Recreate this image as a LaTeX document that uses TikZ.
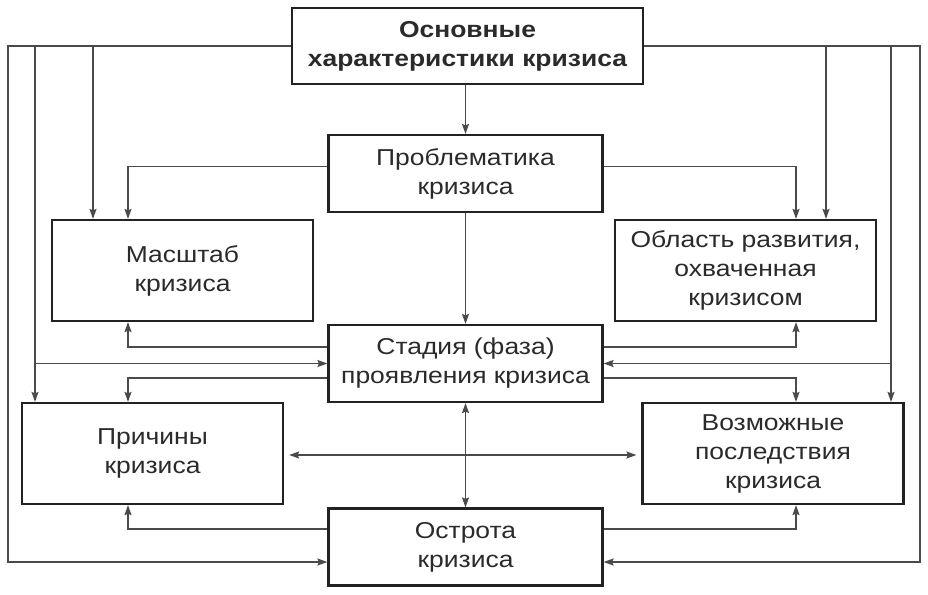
\documentclass[tikz,border=0pt]{standalone}
\usepackage{fontspec}
\setmainfont{Liberation Sans}[FakeStretch=1.15]
\usepackage{tikz}
\usetikzlibrary{arrows.meta}
\usetikzlibrary{positioning}

\definecolor{boxline}{HTML}{222222}
\definecolor{conline}{HTML}{4A4A4A}
\definecolor{txt}{HTML}{2A2A2A}

\begin{document}
\begin{tikzpicture}[x=1pt,y=-1pt,>={Stealth[length=10pt,width=7pt,inset=1.5pt]},
    block/.style={draw=boxline,line width=2.2pt,align=center,inner sep=0pt,text=txt,
                  font=\fontsize{23}{29}\selectfont},
    wide/.style={block,minimum width=261pt,minimum height=101pt},
    mid/.style={block,minimum width=274pt,minimum height=77pt},
    arr/.style={->,draw=conline,line width=1.4pt},
    both/.style={<->,draw=conline,line width=1.4pt}]
    \useasboundingbox (0,0) rectangle (928,594);

    \node[block,minimum width=351pt,minimum height=76pt,font=\fontsize{23}{29}\selectfont\bfseries]
                     (top)   at (467.5,46)  {Основные\\характеристики кризиса};
    \node[mid]       (prob)  at (465.5,173.5) {Проблематика\\кризиса};
    \node[wide]      (mass)  at (182.5,270.5) {Масштаб\\кризиса};
    \node[wide]      (obl)   at (745.5,270.5) {Область развития,\\охваченная\\кризисом};
    \node[mid]       (stad)  at (465.5,363.5) {Стадия (фаза)\\проявления кризиса};
    \node[wide]      (prich) at (152.5,453.5) {Причины\\кризиса};
    \node[wide]      (vozm)  at (773,453.5)   {Возможные\\последствия\\кризиса};
    \node[mid]       (ostr)  at (465.5,547)   {Острота\\кризиса};

    % columns of the connectors
    \coordinate (cl) at (128,0);
    \coordinate (cr) at (796,0);
    \coordinate (c1) at (8,0);
    \coordinate (c2) at (35,0);
    \coordinate (c3) at (93,0);
    \coordinate (c4) at (826,0);
    \coordinate (c5) at (891,0);
    \coordinate (c6) at (920,0);
    \coordinate (ostrl) at ([yshift=-15pt]ostr.west);
    \coordinate (ostrr) at ([yshift=-15pt]ostr.east);

    % middle column
    \draw[arr] (top.south -| prob.north) -- (prob.north);
    \draw[arr] (prob.south) -- (stad.north);
    \draw[both] (stad.south) -- (ostr.north);
    \draw[both,shorten <=5pt,shorten >=5pt] ([yshift=-1.5pt]prich.east) -- ([yshift=-1.5pt]vozm.west);

    % from the middle boxes to the side boxes
    \draw[arr] ([yshift=7pt]prob.west) -| (cl |- mass.north);
    \draw[arr] ([yshift=7pt]prob.east) -| (cr |- obl.north);
    \draw[arr] ([yshift=16.5pt]stad.west) -| (cl |- mass.south);
    \draw[arr] ([yshift=16.5pt]stad.east) -| (cr |- obl.south);
    \draw[arr] ([yshift=-14.5pt]stad.west) -| (cl |- prich.north);
    \draw[arr] ([yshift=-14.5pt]stad.east) -| (cr |- vozm.north);
    \draw[arr] ([yshift=18pt]ostr.west) -| (cl |- prich.south);
    \draw[arr] ([yshift=18pt]ostr.east) -| (cr |- vozm.south);

    % outer frame from the top box
    \draw[arr] (top.west) -| (c1 |- ostrl) -- (ostrl);
    \draw[arr] (c2 |- top.west) -- (c2 |- prich.north);
    \draw[arr] (c2 |- stad.west) -- (stad.west);
    \draw[arr] (c3 |- top.west) -- (c3 |- mass.north);
    \draw[arr] (top.east) -| (c6 |- ostrr) -- (ostrr);
    \draw[arr] (c4 |- top.east) -- (c4 |- obl.north);
    \draw[arr] (c5 |- top.east) -- (c5 |- vozm.north);
    \draw[arr] (c5 |- stad.east) -- (stad.east);
\end{tikzpicture}
\end{document}
